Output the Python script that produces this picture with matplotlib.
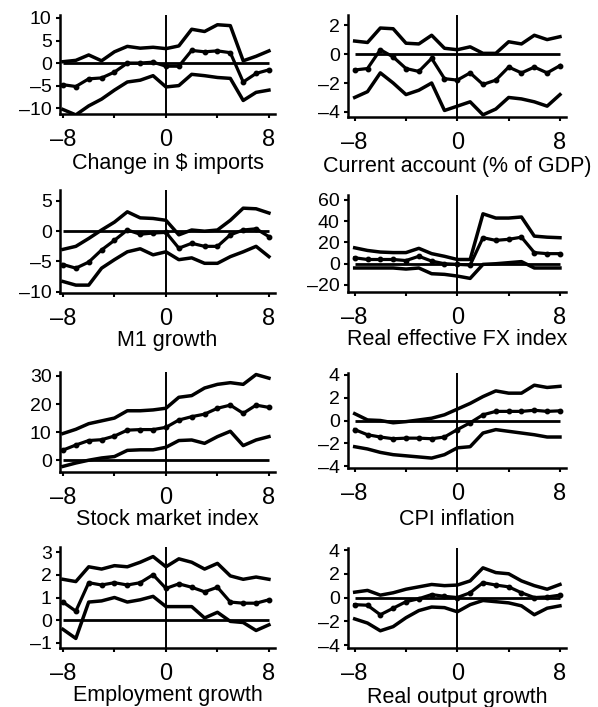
import matplotlib
matplotlib.use("Agg")
import matplotlib.pyplot as plt

plt.rcParams['font.family'] = ['Liberation Sans', 'DejaVu Sans']

# quarters relative to the event
quarters = list(range(-8, 9))

# Change in $ imports
imports_hi = [0.3, 0.6, 1.8, 0.5, 2.5, 3.7, 3.3, 3.5, 3.2, 3.8, 7.5, 7.0, 8.5, 8.3, 0.5, 1.5, 2.7]
imports_mean = [-4.8, -5.2, -3.5, -3.3, -2.0, 0.0, 0.0, 0.2, -0.7, -0.7, 2.8, 2.5, 2.7, 2.3, -4.2, -2.3, -1.5]
imports_lo = [-10.3, -11.5, -9.5, -8.0, -6.0, -4.2, -3.8, -2.8, -5.3, -5.0, -2.5, -2.8, -3.2, -3.4, -8.3, -6.5, -6.0]

# Current account (% of GDP)
ca_hi = [0.9, 0.8, 1.8, 1.75, 0.75, 0.7, 1.3, 0.4, 0.3, 0.5, 0.05, 0.05, 0.85, 0.7, 1.3, 1.0, 1.2]
ca_mean = [-1.1, -1.0, 0.3, -0.2, -1.0, -1.2, -0.3, -1.7, -1.8, -1.3, -2.1, -1.8, -0.9, -1.3, -0.9, -1.3, -0.8]
ca_lo = [-3.0, -2.6, -1.3, -2.0, -2.8, -2.5, -2.0, -3.9, -3.6, -3.3, -4.2, -3.8, -3.0, -3.1, -3.3, -3.6, -2.8]

# M1 growth
m1_hi = [-3.0, -2.5, -1.2, 0.2, 1.5, 3.2, 2.2, 2.1, 1.8, -0.6, 0.2, 0.0, 0.2, 1.8, 3.8, 3.7, 3.0]
m1_mean = [-5.5, -6.1, -5.1, -3.1, -1.5, 0.2, -0.5, -0.3, -0.2, -2.8, -2.0, -2.5, -2.5, -0.6, 0.2, 0.4, -0.9]
m1_lo = [-8.3, -8.9, -8.9, -6.1, -4.7, -3.4, -2.9, -3.9, -3.4, -4.7, -4.4, -5.3, -5.3, -4.2, -3.4, -2.5, -4.2]

# Real effective FX index
fx_hi = [15, 12.5, 11, 10.5, 10.5, 14.5, 9.5, 7, 4, 4, 47, 43, 43, 44, 26, 25, 24.5]
fx_mean = [5.6, 4, 4, 4, 3, 7, 2.5, 0, -0.6, -1.2, 24.5, 22, 23, 25, 10.5, 9.5, 9.5]
fx_lo = [-4, -4, -4, -4, -5, -4, -9.4, -10, -11.6, -13.8, -0.6, 0, 1, 2, -4, -4, -4]

# Stock market index
stock_hi = [9.5, 11, 13, 14, 15, 17.6, 17.6, 17.9, 18.5, 22.4, 23, 25.7, 27, 27.6, 27, 30.5, 29.2]
stock_mean = [3.6, 5.4, 7, 7.3, 8.6, 10.7, 10.9, 10.9, 11.7, 14.3, 15.5, 16.4, 18.5, 19.6, 16.7, 19.6, 18.8]
stock_lo = [-2.2, -1.0, 0, 0.8, 1.3, 3.5, 3.7, 3.7, 4.6, 7, 7.2, 6, 8.4, 10.3, 5.2, 7.2, 8.4]

# CPI inflation
cpi_hi = [0.6, 0.05, 0, -0.2, -0.1, 0.05, 0.2, 0.5, 1.0, 1.5, 2.1, 2.6, 2.4, 2.4, 3.1, 2.9, 3.0]
cpi_mean = [-0.8, -1.25, -1.45, -1.6, -1.55, -1.55, -1.6, -1.45, -0.8, -0.2, 0.5, 0.8, 0.8, 0.8, 0.9, 0.8, 0.85]
cpi_lo = [-2.3, -2.5, -2.8, -3.0, -3.1, -3.2, -3.3, -3.0, -2.4, -2.3, -1.1, -0.8, -0.95, -1.1, -1.25, -1.45, -1.45]

# Employment growth
emp_hi = [1.8, 1.7, 2.35, 2.25, 2.4, 2.35, 2.55, 2.8, 2.35, 2.7, 2.55, 2.25, 2.5, 1.95, 1.8, 1.9, 1.8]
emp_mean = [0.8, 0.4, 1.65, 1.55, 1.65, 1.55, 1.65, 2.0, 1.4, 1.6, 1.45, 1.25, 1.45, 0.8, 0.75, 0.75, 0.9]
emp_lo = [-0.4, -0.8, 0.8, 0.85, 1.0, 0.8, 0.9, 1.05, 0.6, 0.6, 0.6, 0.1, 0.35, -0.05, -0.1, -0.45, -0.2]

# Real output growth
out_hi = [0.45, 0.6, 0.2, 0.4, 0.7, 0.9, 1.1, 1.0, 1.05, 1.4, 2.5, 2.1, 2.0, 1.4, 1.0, 0.7, 1.1]
out_mean = [-0.6, -0.65, -1.45, -0.9, -0.35, -0.1, 0.25, 0.1, 0.0, 0.4, 1.25, 1.05, 0.9, 0.4, 0.0, 0.05, 0.2]
out_lo = [-1.8, -2.15, -2.8, -2.45, -1.7, -1.1, -0.8, -0.85, -1.2, -0.6, -0.25, -0.35, -0.45, -0.7, -1.45, -0.9, -0.7]

titles = ["Change in \\$ imports", "Current account (% of GDP)", "M1 growth",
          "Real effective FX index", "Stock market index", "CPI inflation",
          "Employment growth", "Real output growth"]
series = [(imports_hi, imports_mean, imports_lo), (ca_hi, ca_mean, ca_lo),
          (m1_hi, m1_mean, m1_lo), (fx_hi, fx_mean, fx_lo),
          (stock_hi, stock_mean, stock_lo), (cpi_hi, cpi_mean, cpi_lo),
          (emp_hi, emp_mean, emp_lo), (out_hi, out_mean, out_lo)]
yticks = [[-10, -5, 0, 5, 10], [-4, -2, 0, 2], [-10, -5, 0, 5], [-20, 0, 20, 40, 60],
          [0, 10, 20, 30], [-4, -2, 0, 2, 4], [-1, 0, 1, 2, 3], [-4, -2, 0, 2, 4]]
ylims = [(-11.3, 10.66), (-4.35, 2.7), (-10.2, 6.8), (-26.6, 64.7),
         (-4.2, 31.4), (-4.17, 4.17), (-1.22, 3.22), (-4.25, 4.17)]

W, H = 598, 707
# axes boxes in pixels: left, top, right, bottom
boxes = [(60, 15, 275, 114), (348, 15, 566, 117),
         (60, 190, 275, 293), (348, 195, 566, 292),
         (60, 372, 275, 472), (348, 373, 566, 468),
         (60, 547, 275, 648), (348, 548, 566, 648)]
title_pads = [1, 1, 0, 0, 0, 3, 0, 1]

fig = plt.figure(figsize=(W / 100, H / 100), dpi=100)

for i in range(8):
    l, t, r, b = boxes[i]
    ax = fig.add_axes([l / W, 1 - b / H, (r - l) / W, (b - t) / H])
    hi, mean, lo = series[i]
    ax.plot(quarters, hi, color='black', lw=2.5, solid_joinstyle='round')
    ax.plot(quarters, lo, color='black', lw=2.5, solid_joinstyle='round')
    ax.plot(quarters, mean, color='black', lw=2.3, marker='o', markersize=3.2)
    ax.hlines(0, quarters[0], quarters[-1], color='black', lw=2)
    ax.axvline(0, color='black', lw=1.4)

    if i % 2 == 0:
        ax.set_xlim(-8.23, 8.47)
    else:
        ax.set_xlim(-8.52, 8.47)
    ax.set_ylim(*ylims[i])

    ax.spines['top'].set_visible(False)
    ax.spines['right'].set_visible(False)
    ax.spines['left'].set_linewidth(1.8)
    ax.spines['bottom'].set_linewidth(1.8)

    ax.set_xticks([-8, -4, 0, 4, 8])
    ax.set_xticklabels(['\u20138', '', '0', '', '8'], fontsize=17)
    ax.set_yticks(yticks[i])
    ax.set_yticklabels([str(v).replace('-', '\u2013') for v in yticks[i]], fontsize=14)
    ax.tick_params(axis='both', length=3, width=1.5, color='black')
    ax.tick_params(axis='x', pad=8)
    ax.tick_params(axis='y', pad=3)
    ax.set_xlabel(titles[i], fontsize=15.5, labelpad=title_pads[i])

fig.savefig("out.png", dpi=100)
